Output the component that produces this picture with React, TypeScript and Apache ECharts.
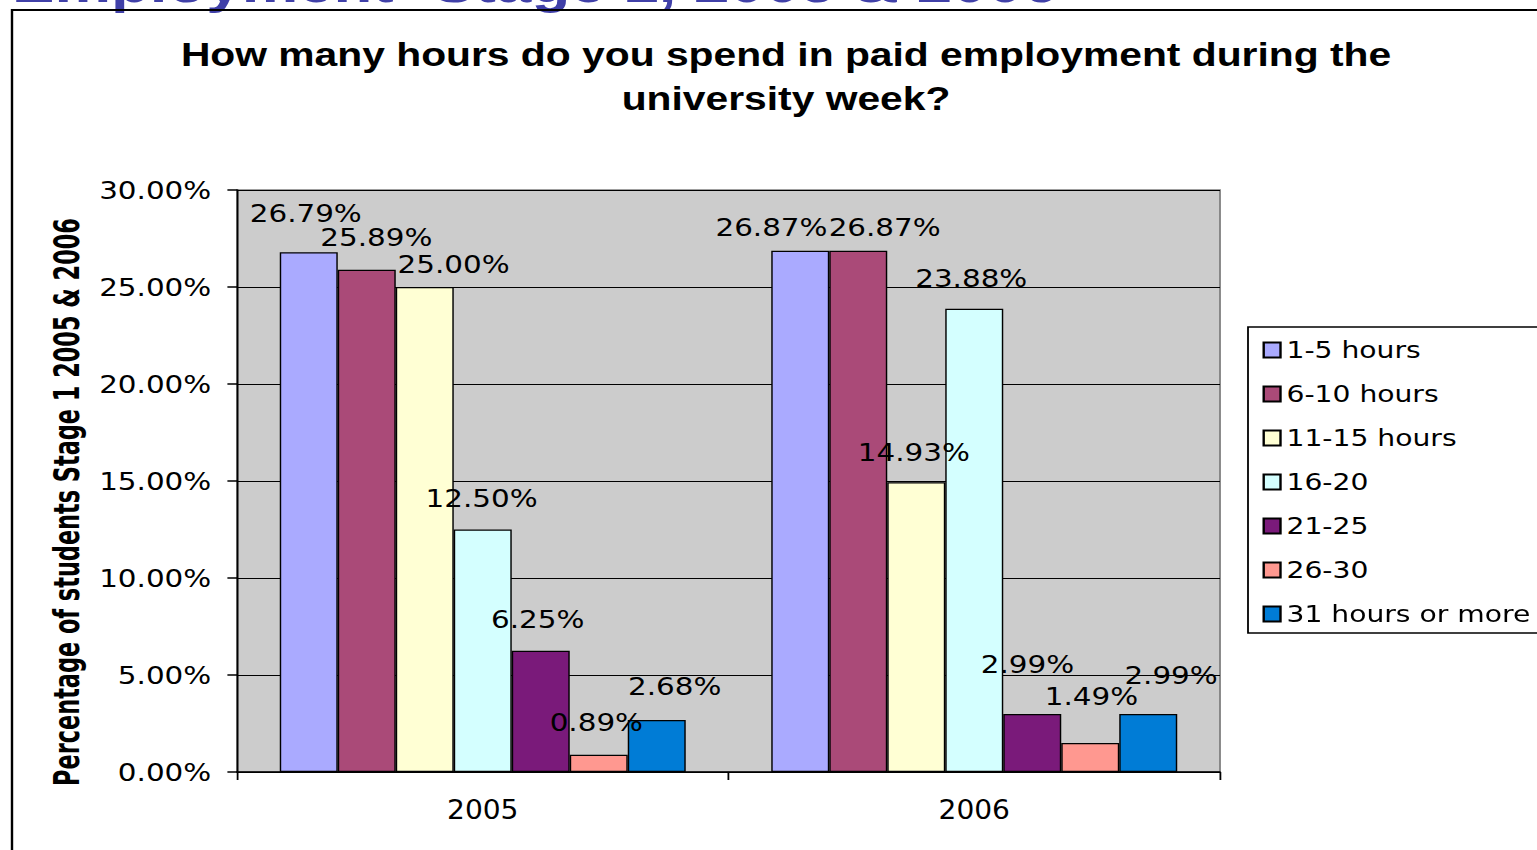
import React, { useEffect, useRef } from 'react';
import * as echarts from 'echarts';

// ---- data ----
const categories = ['2005', '2006'];
const seriesNames = ['1-5 hours', '6-10 hours', '11-15 hours', '16-20', '21-25', '26-30', '31 hours or more'];
const hours1to5 = [26.79, 26.87];
const hours6to10 = [25.89, 26.87];
const hours11to15 = [25.0, 14.93];
const hours16to20 = [12.5, 23.88];
const hours21to25 = [6.25, 2.99];
const hours26to30 = [0.89, 1.49];
const hours31plus = [2.68, 2.99];
const yMin = 0;
const yMax = 30;
const yStep = 5;
const pageTitle = 'Employment- Stage 1, 2005 & 2006';
const chartTitle = 'How many hours do you spend in paid employment during the\nuniversity week?';
const yAxisName = 'Percentage of students Stage 1 2005 & 2006';

// ---- styling ----
const seriesValues = [hours1to5, hours6to10, hours11to15, hours16to20, hours21to25, hours26to30, hours31plus];
const colors = ['#AAAAFF', '#AA4A78', '#FFFFD4', '#D4FFFF', '#7A1A7A', '#FF9890', '#007CD6'];
// small nudges of each value label [dx, dy] per series, per category (as Excel placed them)
const labelNudges = [
  [[-2.5, -7], [-24, 8]],
  [[8, -1], [22, 8]],
  [[24, 9], [-2, 2]],
  [[-1, 0], [-2.5, 1]],
  [[-2.5, 0], [-4, -18]],
  [[-2, -1], [1, -15]],
  [[15, -2], [19, -7]],
];

const S = 1.2; // horizontal stretch of the original picture
const W = 1537 / S;
const H = 850;
const CONDENSED = '"Liberation Sans Narrow", "DejaVu Sans Condensed", sans-serif';
const VERDANA = '"DejaVu Sans", Verdana, sans-serif';

const App: React.FC = () => {
  const ref = useRef<HTMLDivElement>(null);

  useEffect(() => {
    if (!ref.current) return;
    const chart = echarts.init(ref.current, undefined, { renderer: 'svg', width: W, height: H });
    const pct = (v: number) => v.toFixed(2) + '%';

    chart.setOption({
      animation: false,
      backgroundColor: '#FFFFFF',
      graphic: [
        {
          type: 'text',
          x: 12 / S,
          y: 2 - 0.35 * 53,
          z: 1,
          style: {
            text: pageTitle,
            font: 'bold 53px "Liberation Sans", Arial, sans-serif',
            fill: '#4040A8',
            align: 'left',
            verticalAlign: 'middle',
          },
        },
        {
          type: 'rect',
          z: 2,
          shape: { x: 12 / S, y: 10, width: 2000, height: 1200 },
          style: { fill: 'none', stroke: '#000000', lineWidth: 2 },
        },
        {
          type: 'text',
          x: 786 / S,
          y: 32,
          z: 3,
          style: {
            text: chartTitle,
            font: 'bold 34px "Liberation Sans", Arial, sans-serif',
            fill: '#000000',
            align: 'center',
            verticalAlign: 'top',
            lineHeight: 44,
          },
        },
        {
          type: 'text',
          x: 66 / S,
          y: 502,
          rotation: Math.PI / 2,
          scaleX: 0.83,
          z: 3,
          style: {
            text: yAxisName,
            font: 'bold 30px ' + CONDENSED,
            fill: '#000000',
            align: 'center',
            verticalAlign: 'middle',
          },
        },
        {
          type: 'rect',
          z: 1,
          shape: { x: 1248 / S, y: 327, width: 400, height: 306 },
          style: { fill: '#FFFFFF', stroke: '#000000', lineWidth: 1.5 },
        },
      ],
      legend: {
        data: seriesNames,
        orient: 'vertical',
        left: 1262.5 / S,
        top: 338,
        padding: 0,
        itemWidth: 14,
        itemHeight: 15,
        itemGap: 20,
        icon: 'rect',
        selectedMode: false,
        textStyle: { fontFamily: VERDANA, fontSize: 23.5, color: '#000000' },
      },
      grid: {
        left: 237 / S,
        top: 190,
        width: (1220 - 237) / S,
        height: 582,
        show: true,
        backgroundColor: '#CCCCCC',
        borderColor: '#808080',
        borderWidth: 1.5,
        containLabel: false,
      },
      xAxis: {
        type: 'category',
        data: categories,
        axisLine: { show: true, lineStyle: { color: '#000000', width: 1.5 } },
        axisTick: { show: true, length: 8, lineStyle: { color: '#000000', width: 1.5 } },
        axisLabel: {
          margin: 25,
          fontFamily: CONDENSED,
          fontSize: 26,
          color: '#000000',
        },
        splitLine: { show: false },
      },
      yAxis: {
        type: 'value',
        min: yMin,
        max: yMax,
        interval: yStep,
        axisLine: { show: true, lineStyle: { color: '#000000', width: 1.5 } },
        axisTick: { show: true, length: 8, lineStyle: { color: '#000000', width: 1.5 } },
        axisLabel: {
          margin: 21.5,
          formatter: (v: number) => pct(v),
          fontFamily: VERDANA,
          fontSize: 24.5,
          color: '#000000',
        },
        splitLine: { show: true, lineStyle: { color: '#000000', width: 1.2 } },
      },
      series: seriesValues.map((vals, i) => ({
        type: 'bar',
        name: seriesNames[i],
        barGap: '0%',
        barCategoryGap: '17.4%',
        itemStyle: { color: colors[i], borderColor: '#000000', borderWidth: 1.2 },
        label: {
          show: true,
          position: 'top',
          distance: 19,
          formatter: (p: any) => pct(p.value),
          fontFamily: VERDANA,
          fontSize: 24.5,
          color: '#000000',
        },
        data: vals.map((v, j) => ({ value: v, label: { offset: labelNudges[i][j] } })),
      })),
    });

    return () => chart.dispose();
  }, []);

  return (
    <div style={{ position: 'fixed', left: 0, top: 0, width: 1537, height: 850, overflow: 'hidden', background: '#fff' }}>
      <div
        ref={ref}
        style={{
          position: 'absolute',
          left: 0,
          top: 0,
          width: W,
          height: H,
          transform: `scaleX(${S})`,
          transformOrigin: '0 0',
        }}
      />
    </div>
  );
};

export default App;
